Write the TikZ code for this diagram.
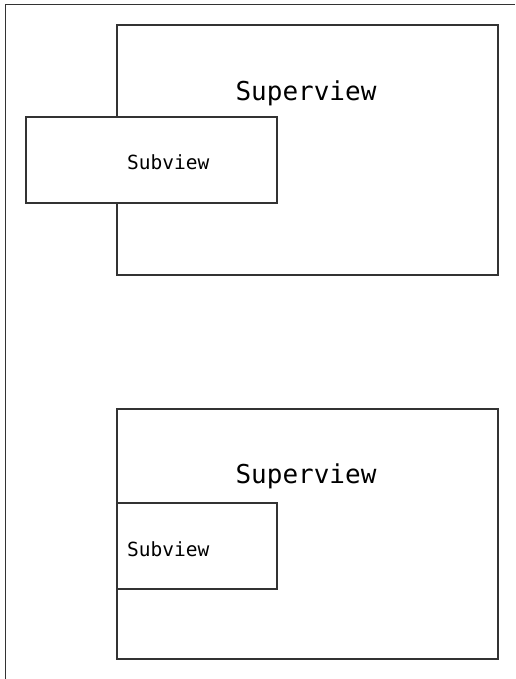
\documentclass[tikz,border=0pt]{standalone}
\usepackage{fontspec}
\setmonofont{DejaVu Sans Mono}
\tikzset{
  viewbox/.style={draw=black!80,line width=1.2pt},
  supertext/.style={inner sep=0pt,font=\fontsize{26}{30}\selectfont\ttfamily},
  subtext/.style={inner sep=0pt,anchor=west,font=\fontsize{19.5}{23}\selectfont\ttfamily}
}
\begin{document}
\begin{tikzpicture}[x=1pt,y=-1pt]
        \useasboundingbox (0,0) rectangle (515,679);
        \draw[viewbox] (5.5,679) -- (5.5,4.5) -- (515,4.5);
        % superview with subview sticking out on the left
        \draw[viewbox] (117,25) rectangle (498,275);
        \node[supertext] (super1) at (306,93) {Superview};
        \draw[viewbox,fill=white] (26,117) rectangle (277,203);
        \node[subtext] (sub1) at (127,162) {Subview};
        % subview moved inside the superview
        \draw[viewbox] (117,409) rectangle (498,659);
        \node[supertext] (super2) at (306,476) {Superview};
        \draw[viewbox,fill=white] (117,503) rectangle (277,589);
        \node[subtext] (sub2) at (127,549) {Subview};
      \end{tikzpicture}
\end{document}
